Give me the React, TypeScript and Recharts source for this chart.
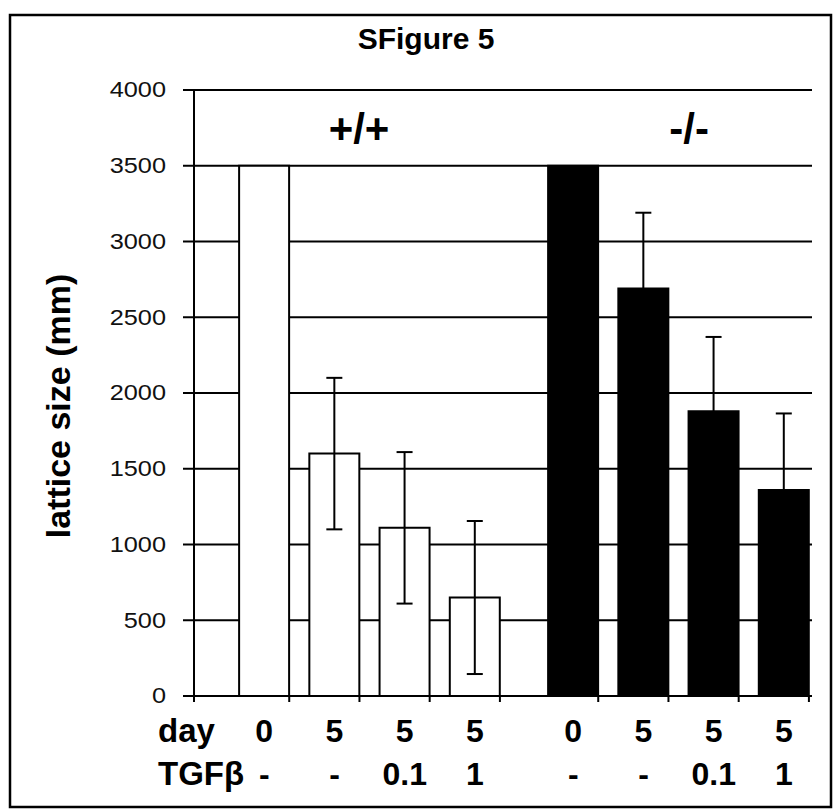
import React from "react";
import { BarChart, Bar, XAxis, YAxis, CartesianGrid, ErrorBar, Cell, ReferenceDot } from "recharts";

const genotypes = ["+/+", "-/-"];
const days = ["0", "5", "5", "5"];
const tgfDoses = ["-", "-", "0.1", "1"];
const sizeWildType = [3500, 1600, 1110, 650];
const sizeKnockout = [3500, 2690, 1880, 1360];
const errWildType = [0, 500, 500, 505];
const errKnockout = [0, 500, 490, 505];
const sizeTicks = [0, 500, 1000, 1500, 2000, 2500, 3000, 3500, 4000];

// the two genotype groups sit side by side with a wider gap between them
const GROUP_STEP = 4.4;
const FONT = "Arial, 'Liberation Sans', Helvetica, sans-serif";

const rows = [sizeWildType, sizeKnockout].flatMap((sizes, g) =>
  sizes.map((size, i) => ({
    pos: g * GROUP_STEP + i,
    group: g,
    size,
    err: [errWildType, errKnockout][g][i],
    day: days[i],
    tgf: tgfDoses[i],
  }))
);

function SizeTick({ x, y, payload }: any) {
  return (
    <text
      transform={`translate(${x},${y}) scale(1.15,1)`}
      textAnchor="end"
      dominantBaseline="central"
      fontSize={22}
      fontFamily={FONT}
      fill="#111"
    >
      {payload.value}
    </text>
  );
}

function DayTick({ x, y, index }: any) {
  const row = rows[index];
  if (!row) return null;
  return (
    <g>
      <line x1={x + 25} x2={x + 25} y1={y} y2={y + 6} stroke="#000" strokeWidth={2} />
      <text x={x} y={y + 46} textAnchor="middle" fontSize={32} fontWeight={700} fontFamily={FONT} fill="#000">
        {row.day}
      </text>
      <text x={x} y={y + 89} textAnchor="middle" fontSize={32} fontWeight={700} fontFamily={FONT} fill="#000">
        {row.tgf}
      </text>
    </g>
  );
}

function RowHeaders({ viewBox }: any) {
  const { x, y } = viewBox;
  return (
    <g>
      <line x1={x} x2={x} y1={y} y2={y + 6} stroke="#000" strokeWidth={2} />
      <text x={x - 36} y={y + 46} fontSize={33} fontWeight={700} fontFamily={FONT} fill="#000">day</text>
      <text x={x - 36} y={y + 89} fontSize={33} fontWeight={700} fontFamily={FONT} fill="#000">TGFβ</text>
    </g>
  );
}

function SizeLabel() {
  return (
    <text
      x={58}
      y={406}
      transform="rotate(-90 58 406)"
      textAnchor="middle"
      dominantBaseline="central"
      fontSize={34}
      fontWeight={700}
      fontFamily={FONT}
      fill="#000"
    >
      lattice size (mm)
    </text>
  );
}

export default function App() {
  return (
    <div style={{ position: "absolute", left: 0, top: 0, width: 833, height: 810, background: "#fff" }}>
      <svg width={833} height={810} style={{ position: "absolute", left: 0, top: 0 }}>
        <rect x={10} y={15} width={821} height={792} fill="none" stroke="#000" strokeWidth={2.5} />
        <text x={426} y={49} textAnchor="middle" fontSize={30} fontWeight={700} fontFamily={FONT} fill="#000">
          SFigure 5
        </text>
      </svg>
      <div style={{ position: "absolute", left: 0, top: 0 }}>
        <BarChart width={833} height={810} data={rows} margin={{ top: 90, right: 21, left: 0, bottom: 0 }}>
          <CartesianGrid vertical={false} stroke="#000" strokeWidth={2} strokeOpacity={1} />
          <XAxis
            dataKey="pos"
            type="number"
            domain={[-1, 7.8]}
            ticks={rows.map((r) => r.pos)}
            allowDataOverflow
            interval={0}
            height={114}
            axisLine={{ stroke: "#000", strokeWidth: 2 }}
            tickLine={false}
            tickSize={0}
            tickMargin={0}
            tick={<DayTick />}
            label={<RowHeaders />}
          />
          <YAxis
            domain={[0, 4000]}
            ticks={sizeTicks}
            width={194}
            interval={0}
            axisLine={{ stroke: "#000", strokeWidth: 2 }}
            tickLine={{ stroke: "#000", strokeWidth: 2 }}
            tickSize={11}
            tickMargin={17}
            tick={<SizeTick />}
            label={<SizeLabel />}
          />
          <YAxis
            yAxisId="frame"
            orientation="right"
            domain={[0, 4000]}
            width={0}
            tick={false}
            tickLine={false}
            axisLine={{ stroke: "#888", strokeWidth: 2 }}
          />
          <Bar dataKey="size" barSize={50} stroke="#000" strokeWidth={2} isAnimationActive={false}>
            {rows.map((r) => (
              <Cell key={r.pos} fill={r.group === 0 ? "#fff" : "#000"} />
            ))}
            <ErrorBar dataKey="err" direction="y" width={8} stroke="#000" strokeWidth={2} isAnimationActive={false} />
          </Bar>
          {genotypes.map((g, i) => (
            <ReferenceDot
              key={g}
              x={i * GROUP_STEP + (i === 0 ? 1.35 : 1.65)}
              y={3750}
              r={0}
              fill="none"
              stroke="none"
              label={{ value: g, position: "center", fontSize: 42, fontWeight: 700, fill: "#000", fontFamily: FONT }}
            />
          ))}
        </BarChart>
      </div>
    </div>
  );
}
